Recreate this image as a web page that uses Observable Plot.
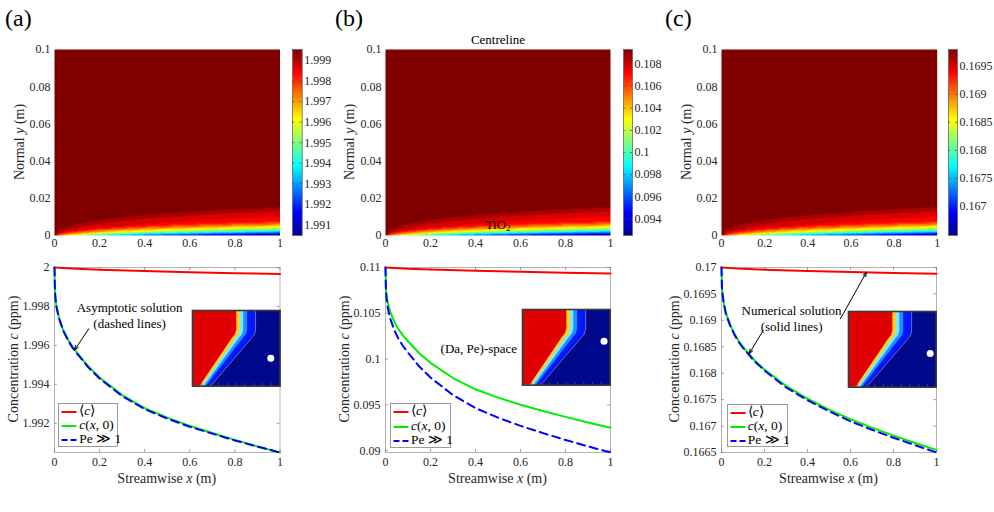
<!DOCTYPE html>
<html><head><meta charset="utf-8">
<script src="https://cdn.jsdelivr.net/npm/d3@7"></script>
<script src="https://cdn.jsdelivr.net/npm/@observablehq/plot@0.6"></script>
<style>
body{margin:0;background:#fff;}
#root{position:relative;width:994px;height:512px;overflow:hidden;font-family:"Liberation Serif",serif;color:#262626;background:#fff;}
#root svg text{font-family:"Liberation Serif",serif;}
.lbl{position:absolute;white-space:nowrap;font-size:13px;color:#000;transform:translate(-50%,-50%);}
.alab{position:absolute;white-space:nowrap;font-size:14px;color:#262626;transform:translate(-50%,-50%);}
.ylbl{position:absolute;white-space:nowrap;font-size:14px;color:#262626;transform:translate(-50%,-50%) rotate(-90deg);}
.panel{position:absolute;font-size:24px;color:#000;line-height:1;}
.legend{position:absolute;background:#fff;border:1px solid #9a9a9a;box-sizing:border-box;font-size:13.5px;color:#000;}
.legend .row{position:absolute;left:0;height:14px;white-space:nowrap;}
.legend svg{position:absolute;left:2px;top:0;}
.legend span{position:absolute;left:20px;top:-1px;line-height:14px;}
</style></head><body><div id="root"></div>
<script>
// ---------- shared axes ----------
const xTicks = [0, 0.2, 0.4, 0.6, 0.8, 1];
const xTickLabels = ["0", "0.2", "0.4", "0.6", "0.8", "1"];
const heatYTicks = [0, 0.02, 0.04, 0.06, 0.08, 0.1];
const heatYTickLabels = ["0", "0.02", "0.04", "0.06", "0.08", "0.1"];

// ---------- streamwise samples ----------
const xs = [0, 0.002, 0.005, 0.01, 0.02, 0.04, 0.06, 0.08, 0.1, 0.15, 0.2, 0.3, 0.4, 0.5, 0.6, 0.7, 0.8, 0.9, 1];
const redX = [0, 0.1, 0.2, 0.4, 0.6, 0.8, 1];

// panel (a)
const meanA  = [2.0, 1.99993, 1.99988, 1.99982, 1.99976, 1.99971, 1.99966];
const wallA  = [2.0, 1.99877, 1.99834, 1.99793, 1.99742, 1.99675, 1.99630, 1.99593, 1.99563, 1.99492, 1.99435, 1.99345, 1.99278, 1.99229, 1.99187, 1.99150, 1.99115, 1.99081, 1.99050];
const asymA  = [2.0, 1.99876, 1.99832, 1.99790, 1.99739, 1.99672, 1.99626, 1.99588, 1.99558, 1.99487, 1.99430, 1.99340, 1.99273, 1.99224, 1.99182, 1.99147, 1.99112, 1.99080, 1.99050];
const yTicksA = [1.992, 1.994, 1.996, 1.998, 2];
const yTickLabelsA = ["1.992", "1.994", "1.996", "1.998", "2"];
const yDomainA = [1.9905, 2.0];
const cbRangeA = [1.99048, 1.99954];
const cbTicksA = [1.991, 1.992, 1.993, 1.994, 1.995, 1.996, 1.997, 1.998, 1.999];
const cbTickLabelsA = ["1.991", "1.992", "1.993", "1.994", "1.995", "1.996", "1.997", "1.998", "1.999"];

// panel (b)
const meanB  = [0.11, 0.10986, 0.10978, 0.10965, 0.10954, 0.10944, 0.10935];
const wallB  = [0.11, 0.10773, 0.10694, 0.10619, 0.10524, 0.10402, 0.10318, 0.10251, 0.10195, 0.10064, 0.09959, 0.09793, 0.09670, 0.09579, 0.09502, 0.09434, 0.09369, 0.09308, 0.09250];
const asymB  = [0.11, 0.10737, 0.10647, 0.10560, 0.10451, 0.10309, 0.10212, 0.10135, 0.10071, 0.09919, 0.09798, 0.09606, 0.09465, 0.09360, 0.09271, 0.09192, 0.09117, 0.09047, 0.08980];
const yTicksB = [0.09, 0.095, 0.1, 0.105, 0.11];
const yTickLabelsB = ["0.09", "0.095", "0.1", "0.105", "0.11"];
const yDomainB = [0.0898, 0.11];
const cbRangeB = [0.0925, 0.1093];
const cbTicksB = [0.094, 0.096, 0.098, 0.1, 0.102, 0.104, 0.106, 0.108];
const cbTickLabelsB = ["0.094", "0.096", "0.098", "0.1", "0.102", "0.104", "0.106", "0.108"];

// panel (c)
const meanC  = [0.17, 0.169974, 0.169959, 0.169935, 0.169915, 0.169897, 0.16988];
const wallC  = [0.17, 0.16963, 0.16949, 0.16934, 0.16915, 0.16892, 0.16875, 0.16861, 0.16850, 0.16826, 0.16807, 0.16776, 0.16752, 0.16731, 0.16713, 0.16697, 0.16682, 0.16668, 0.16655];
const asymC  = [0.17, 0.16963, 0.16949, 0.16933, 0.16913, 0.16890, 0.16873, 0.16859, 0.16848, 0.16824, 0.16805, 0.16773, 0.16749, 0.16728, 0.16709, 0.16693, 0.16678, 0.16664, 0.16650];
const yTicksC = [0.1665, 0.167, 0.1675, 0.168, 0.1685, 0.169, 0.1695, 0.17];
const yTickLabelsC = ["0.1665", "0.167", "0.1675", "0.168", "0.1685", "0.169", "0.1695", "0.17"];
const yDomainC = [0.1665, 0.17];
const cbRangeC = [0.16648, 0.1698];
const cbTicksC = [0.167, 0.1675, 0.168, 0.1685, 0.169, 0.1695];
const cbTickLabelsC = ["0.167", "0.1675", "0.168", "0.1685", "0.169", "0.1695"];

// ---------- boundary-layer field ----------
const layerX     = [0, 0.02, 0.05, 0.1, 0.2, 0.3, 0.4, 0.5, 0.6, 0.7, 0.8, 0.9, 1];
const layerDelta = [0, 0.0050, 0.0068, 0.0088, 0.0115, 0.0132, 0.0146, 0.0157, 0.0167, 0.0176, 0.0184, 0.0191, 0.0198];
const profileEta = [0, 0.046, 0.11, 0.16, 0.225, 0.29, 0.38, 0.6, 0.77, 1];
const profileG   = [0, 0.125, 0.375, 0.5, 0.625, 0.75, 0.875, 0.94, 0.985, 1];
const contourLevels = 24;

// ---------- inset (Da, Pe)-space regime map ----------
const insetLevels = [1, 0.74, 0.68, 0.63, 0];
const insetBands = [
  {color: "#0018ff", xs: [0.72, 0.72, 0.705, 0.67, 0.205]},
  {color: "#1a90ff", xs: [0.63, 0.63, 0.615, 0.58, 0.16]},
  {color: "#7fe6ff", xs: [0.585, 0.585, 0.57, 0.535, 0.135]},
  {color: "#ffd21a", xs: [0.545, 0.545, 0.53, 0.495, 0.11]},
  {color: "#e00000", xs: [0.506, 0.506, 0.49, 0.455, 0.087]}
];
const insetTicks = [0.1, 0.2, 0.3, 0.4, 0.5, 0.6, 0.7, 0.8, 0.9];
const dotA = [{x: 0.894, y: 0.37}];
const dotB = [{x: 0.93, y: 0.58}];
const dotC = [{x: 0.932, y: 0.445}];

// ---------- annotations ----------
const notesA = [{x: 0.333, y: 1.99757, text: "Asymptotic solution\n(dashed lines)", anchor: "middle"}];
const arrowsA = [{x1: 0.152, y1: 1.99685, x2: 0.0887, y2: 1.99576}];
const notesB = [{x: 0.585, y: 0.10123, text: "(Da, Pe)-space", anchor: "end"}];
const arrowsB = [];
const notesC = [{x: 0.326, y: 0.16904, text: "Numerical solution\n(solid lines)", anchor: "middle"}];
const arrowsC = [{x1: 0.553, y1: 0.16903, x2: 0.674, y2: 0.16991}, {x1: 0.194, y1: 0.16881, x2: 0.129, y2: 0.16837}];

const legendItems = [
  {html: "⟨<i>c</i>⟩", color: "#ff0000", dash: null},
  {html: "<i>c</i>(<i>x</i>, 0)", color: "#00ee00", dash: null},
  {html: "Pe ≫ 1", color: "#0000ff", dash: "6,3"}
];

// ---------- layout (pixel frames) ----------
const panels = [
  {tag: "(a)", tagX: 5, heat: {L: 54, R: 279.5, T: 49, B: 235}, cbX: [292, 301.7],
   line: {L: 54, R: 279.5, T: 266.7, B: 451.7}, inset: {L: 191.7, T: 310, W: 87.6, H: 75.7},
   legend: {L: 58.3, T: 402.7, W: 60, H: 44}, ylab1X: 20, ylab2X: 13.5,
   mean: meanA, wall: wallA, asym: asymA, yTicks: yTicksA, yTickLabels: yTickLabelsA, yDomain: yDomainA,
   cb: cbRangeA, cbTicks: cbTicksA, cbTickLabels: cbTickLabelsA, dot: dotA, notes: notesA, arrows: arrowsA},
  {tag: "(b)", tagX: 335, heat: {L: 385, R: 610, T: 49, B: 235}, cbX: [622.7, 631.7],
   line: {L: 385, R: 610, T: 266.7, B: 451.7}, inset: {L: 522.3, T: 309.3, W: 87.7, H: 75.7},
   legend: {L: 390, T: 402.7, W: 60.7, H: 45.5}, ylab1X: 350, ylab2X: 345,
   mean: meanB, wall: wallB, asym: asymB, yTicks: yTicksB, yTickLabels: yTickLabelsB, yDomain: yDomainB,
   cb: cbRangeB, cbTicks: cbTicksB, cbTickLabels: cbTickLabelsB, dot: dotB, notes: notesB, arrows: arrowsB},
  {tag: "(c)", tagX: 665, heat: {L: 721, R: 936.7, T: 49, B: 235}, cbX: [947.7, 956.7],
   line: {L: 721, R: 936, T: 266.7, B: 451.7}, inset: {L: 848.3, T: 311, W: 87.7, H: 75.7},
   legend: {L: 726.7, T: 404, W: 61.6, H: 42.7}, ylab1X: 686.7, ylab2X: 675,
   mean: meanC, wall: wallC, asym: asymC, yTicks: yTicksC, yTickLabels: yTickLabelsC, yDomain: yDomainC,
   cb: cbRangeC, cbTicks: cbTicksC, cbTickLabels: cbTickLabelsC, dot: dotC, notes: notesC, arrows: arrowsC}
];

const root = document.getElementById("root");
const serifStack = '"Liberation Serif", serif';
const baseStyle = {fontFamily: serifStack, fontSize: "12px", color: "#262626", background: "transparent", overflow: "visible"};
const jetStops = [0, 0.125, 0.375, 0.625, 0.875, 1];
const jetColors = ["#00008f", "#0000ff", "#00ffff", "#ffff00", "#ff0000", "#800000"];
function colorScale(cb) { const [a, b] = cb; return {type: "linear", domain: jetStops.map(t => a + t * (b - a)), range: jetColors, clamp: true}; }
function fmt(ticks, labels) { return d => { const i = ticks.findIndex(t => Math.abs(t - d) < 1e-9); return i >= 0 ? labels[i] : ""; }; }
function place(el, left, top) { el.style.position = "absolute"; el.style.left = left + "px"; el.style.top = top + "px"; root.appendChild(el); return el; }
function html(cls, inner, x, y) { const d = document.createElement("div"); d.className = cls; d.innerHTML = inner; d.style.left = x + "px"; d.style.top = y + "px"; root.appendChild(d); return d; }

for (const P of panels) {
  // heat map (filled-contour look)
  {
    const mL = 46, mR = 2, mT = 2, mB = 22;
    const W = P.heat.R - P.heat.L, H = P.heat.B - P.heat.T;
    const wallAt = d3.scaleLinear(xs, P.wall);
    const deltaAt = d3.scaleLinear(layerX, layerDelta);
    const prof = d3.scaleLinear(profileEta, profileG).clamp(true);
    const [a, b] = P.cb;
    const field = (x, y) => {
      let fs = (wallAt(x) - a) / (b - a); fs = Math.max(0, Math.min(1, fs));
      const d = deltaAt(x); const eta = d > 0 ? y / d : 10;
      let f = fs + (1 - fs) * prof(eta);
      f = f >= 0.985 ? 1 : Math.floor(f * contourLevels) / contourLevels;
      return a + f * (b - a);
    };
    const svg = Plot.plot({
      width: W + mL + mR, height: H + mT + mB, marginLeft: mL, marginRight: mR, marginTop: mT, marginBottom: mB,
      x: {domain: [0, 1]}, y: {domain: [0, 0.1]}, color: colorScale(P.cb), style: baseStyle,
      marks: [
        Plot.raster({x1: 0, x2: 1, y1: 0, y2: 0.1, fill: field, pixelSize: 1}),
        Plot.axisX(xTicks, {tickSize: 0, tickPadding: 3, tickFormat: fmt(xTicks, xTickLabels), label: null}),
        Plot.axisY(heatYTicks, {tickSize: 0, tickPadding: 4, tickFormat: fmt(heatYTicks, heatYTickLabels), label: null})
      ]
    });
    place(svg, P.heat.L - mL, P.heat.T - mT);
  }
  // colour bar
  {
    const [a, b] = P.cb;
    const mL = 1, mR = 44, mT = 1, mB = 1;
    const W = P.cbX[1] - P.cbX[0], H = P.heat.B - P.heat.T;
    const svg = Plot.plot({
      width: W + mL + mR, height: H + mT + mB, marginLeft: mL, marginRight: mR, marginTop: mT, marginBottom: mB,
      x: {domain: [0, 1], axis: null}, y: {domain: [a, b]}, color: colorScale(P.cb), style: baseStyle,
      marks: [
        Plot.raster({x1: 0, x2: 1, y1: a, y2: b, fill: (x, y) => y, pixelSize: 1}),
        Plot.frame({stroke: "#666", strokeWidth: 0.8}),
        Plot.ruleY(P.cbTicks, {y: d => d, x1: 0, x2: 0.22, stroke: "#444", strokeWidth: 0.7}),
        Plot.ruleY(P.cbTicks, {y: d => d, x1: 0.78, x2: 1, stroke: "#444", strokeWidth: 0.7}),
        Plot.axisY(P.cbTicks, {anchor: "right", tickSize: 0, tickPadding: 2, tickFormat: fmt(P.cbTicks, P.cbTickLabels), label: null})
      ]
    });
    place(svg, P.cbX[0] - mL, P.heat.T - mT);
  }
  // line plot
  {
    const mL = 50, mR = 6, mT = 6, mB = 22;
    const W = P.line.R - P.line.L, H = P.line.B - P.line.T;
    const [y0, y1] = P.yDomain, r = y1 - y0;
    const svg = Plot.plot({
      width: W + mL + mR, height: H + mT + mB, marginLeft: mL, marginRight: mR, marginTop: mT, marginBottom: mB,
      x: {domain: [0, 1]}, y: {domain: P.yDomain}, style: baseStyle,
      marks: [
        Plot.frame({stroke: "#a0a0a0", strokeWidth: 0.8}),
        Plot.ruleX(xTicks, {x: d => d, y1: y0, y2: y0 + 0.016 * r, stroke: "#777", strokeWidth: 0.7}),
        Plot.ruleX(xTicks, {x: d => d, y1: y1 - 0.016 * r, y2: y1, stroke: "#777", strokeWidth: 0.7}),
        Plot.ruleY(P.yTicks, {y: d => d, x1: 0, x2: 0.013, stroke: "#777", strokeWidth: 0.7}),
        Plot.ruleY(P.yTicks, {y: d => d, x1: 0.987, x2: 1, stroke: "#777", strokeWidth: 0.7}),
        Plot.axisX(xTicks, {tickSize: 0, tickPadding: 5, tickFormat: fmt(xTicks, xTickLabels), label: null}),
        Plot.axisY(P.yTicks, {tickSize: 0, tickPadding: 5, tickFormat: fmt(P.yTicks, P.yTickLabels), label: null}),
        Plot.line(redX, {x: redX, y: P.mean, stroke: "#ff0000", strokeWidth: 2}),
        Plot.line(xs, {x: xs, y: P.wall, stroke: "#00ee00", strokeWidth: 2}),
        Plot.line(xs, {x: xs, y: P.asym, stroke: "#0000ff", strokeWidth: 2, strokeDasharray: "8,5"}),
        Plot.arrow(P.arrows, {x1: "x1", y1: "y1", x2: "x2", y2: "y2", stroke: "#000", strokeWidth: 1, headLength: 7, headAngle: 40}),
        Plot.text(P.notes.filter(d => d.anchor === "middle"), {x: "x", y: "y", text: "text", fontSize: 13, lineHeight: 1.2, fill: "#000", textAnchor: "middle"}),
        Plot.text(P.notes.filter(d => d.anchor === "end"), {x: "x", y: "y", text: "text", fontSize: 13, lineHeight: 1.2, fill: "#000", textAnchor: "end"})
      ]
    });
    place(svg, P.line.L - mL, P.line.T - mT);
  }
  // inset
  {
    const I = P.inset;
    const marks = [Plot.frame({fill: "#00088c"})];
    for (const band of insetBands) {
      const pts = insetLevels.map((y, i) => ({x: band.xs[i], y}));
      marks.push(Plot.areaX(pts, {x1: 0, x2: "x", y: "y", fill: band.color}));
    }
    const outer = insetLevels.map((y, i) => ({x: insetBands[0].xs[i], y}));
    marks.push(Plot.line(outer, {x: "x", y: "y", stroke: "#fff", strokeOpacity: 0.6, strokeWidth: 0.7}));
    marks.push(Plot.ruleY(insetTicks, {y: d => d, x1: 0, x2: 0.03, stroke: "#555", strokeWidth: 0.8}));
    marks.push(Plot.ruleX(insetTicks, {x: d => d, y1: 0, y2: 0.035, stroke: "#555", strokeWidth: 0.8}));
    marks.push(Plot.frame({stroke: "#3a3a3a", strokeWidth: 1.6}));
    marks.push(Plot.dot(P.dot, {x: "x", y: "y", r: 3.5, fill: "#fff", stroke: "none"}));
    const svg = Plot.plot({
      width: I.W, height: I.H, margin: 0, x: {domain: [0, 1], axis: null}, y: {domain: [0, 1], axis: null},
      style: baseStyle, marks
    });
    place(svg, I.L, I.T);
  }
  // legend
  {
    const Lg = P.legend;
    const box = document.createElement("div");
    box.className = "legend";
    box.style.left = Lg.L + "px"; box.style.top = Lg.T + "px"; box.style.width = Lg.W + "px"; box.style.height = Lg.H + "px";
    const rowsY = [1.5, 15.5, 29.5];
    legendItems.forEach((it, i) => {
      const row = document.createElement("div");
      row.className = "row"; row.style.top = (rowsY[i] * Lg.H / 44) + "px"; row.style.width = Lg.W + "px";
      row.innerHTML = `<svg width="16" height="14"><line x1="0.5" y1="7" x2="15.5" y2="7" stroke="${it.color}" stroke-width="2" ${it.dash ? `stroke-dasharray="${it.dash}"` : ""}/></svg><span>${it.html}</span>`;
      box.appendChild(row);
    });
    root.appendChild(box);
  }
  // labels
  html("panel", P.tag, P.tagX, 6);
  html("ylbl", "Normal <i>y</i> (m)", P.ylab1X, (P.heat.T + P.heat.B) / 2);
  html("ylbl", "Concentration <i>c</i> (ppm)", P.ylab2X, (P.line.T + P.line.B) / 2);
  html("alab", "Streamwise <i>x</i> (m)", (P.line.L + P.line.R) / 2, 478.5);
}
html("lbl", "Centreline", 498, 40);
html("lbl", "TiO<sub style='font-size:9px;vertical-align:-2px'>2</sub>", 498, 225);
</script>
</body></html>
